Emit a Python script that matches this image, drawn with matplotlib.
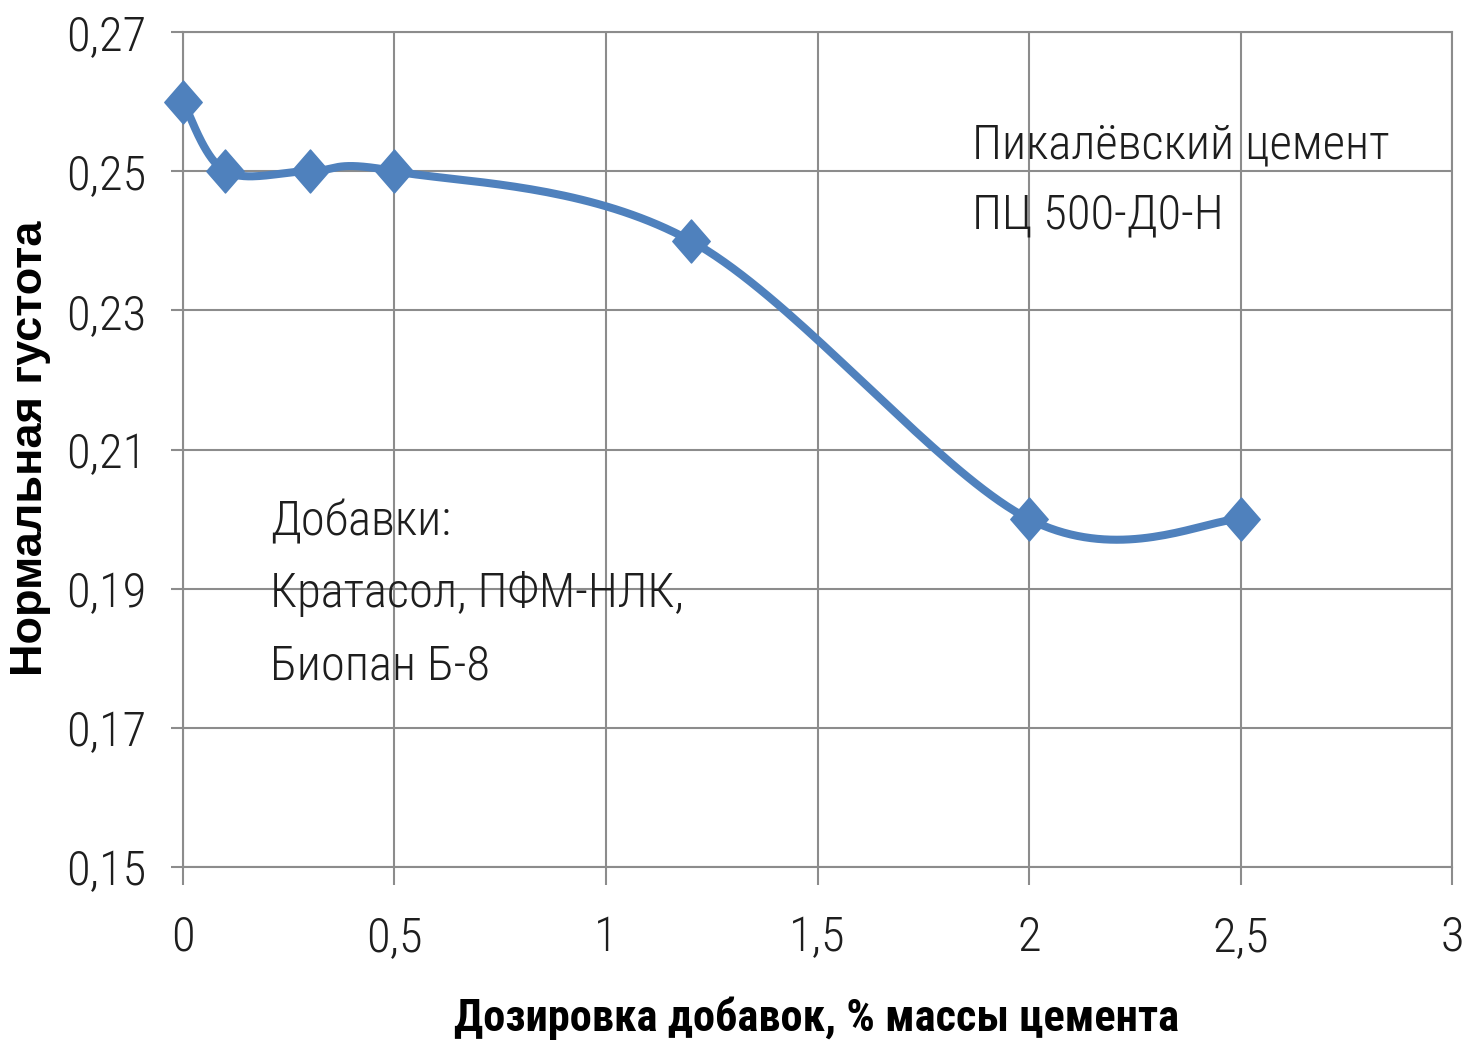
import matplotlib as mpl

mpl.use("Agg")

import matplotlib.pyplot as plt
import numpy as np
from matplotlib.path import Path
from matplotlib.ticker import FuncFormatter

# Dosage of additives, % of cement mass, and normal consistency
dosage = [0, 0.1, 0.3, 0.5, 1.2, 2.0, 2.5]
consistency = [0.26, 0.25, 0.25, 0.25, 0.24, 0.20, 0.20]

x_ticks = [0, 0.5, 1, 1.5, 2, 2.5, 3]
y_ticks = [0.15, 0.17, 0.19, 0.21, 0.23, 0.25, 0.27]

x_label = "Дозировка добавок, % массы цемента"
y_label = "Нормальная густота"
cement_note = ["Пикалёвский цемент", "ПЦ 500-Д0-Н"]
additive_note = ["Добавки:", "Кратасол, ПФМ-НЛК,", "Биопан Б-8"]

LINE_BLUE = "#4F81BD"
GRID_GREY = "#8C8C8C"
TEXT = "#1E1E1E"
NARROW = ["Roboto Condensed", "Liberation Sans Narrow", "Roboto", "DejaVu Sans"]


def smooth_path(xs, ys, steps=40):
    """Excel-style smoothed line: cubic Bezier segments, Catmull-Rom control points."""
    pts = np.column_stack([xs, ys]).astype(float)
    padded = np.vstack([pts[0], pts, pts[-1]])
    out = [pts[:1]]
    t = np.linspace(0, 1, steps)[1:, None]
    for i in range(len(pts) - 1):
        p0, p1 = padded[i + 1], padded[i + 2]
        c1 = p0 + (padded[i + 2] - padded[i]) / 6
        c2 = p1 - (padded[i + 3] - padded[i + 1]) / 6
        seg = (1 - t) ** 3 * p0 + 3 * (1 - t) ** 2 * t * c1 + 3 * (1 - t) * t**2 * c2 + t**3 * p1
        out.append(seg)
    curve = np.vstack(out)
    return curve[:, 0], curve[:, 1]


fig = plt.figure(figsize=(14.66, 10.43), dpi=100)
ax = fig.add_axes([0.1248, 0.1687, 0.8657, 0.8006])

sx, sy = smooth_path(dosage, consistency)
ax.plot(sx, sy, color=LINE_BLUE, lw=5.8, solid_capstyle="round", zorder=3, clip_on=False)

diamond = Path([(0, 1), (0.87, 0), (0, -1), (-0.87, 0), (0, 1)], closed=True)
ax.plot(dosage, consistency, ls="none", marker=diamond, ms=31, color=LINE_BLUE, zorder=4,
        clip_on=False)

ax.set_xlim(0, 3)
ax.set_ylim(0.15, 0.27)
ax.set_xticks(x_ticks)
ax.set_yticks(y_ticks)
ax.xaxis.set_major_formatter(FuncFormatter(lambda v, _: f"{v:g}".replace(".", ",")))
ax.yaxis.set_major_formatter(FuncFormatter(lambda v, _: f"{v:.2f}".replace(".", ",")))

ax.grid(True, color=GRID_GREY, lw=1.5)
ax.set_axisbelow(True)
for spine in ax.spines.values():
    spine.set_color(GRID_GREY)
    spine.set_linewidth(1.5)
ax.tick_params(axis="x", length=13, width=1.5, color=GRID_GREY, pad=21, labelsize=35)
ax.tick_params(axis="y", length=8.6, width=1.5, color=GRID_GREY, pad=18, labelsize=35)
for lab in ax.get_xticklabels() + ax.get_yticklabels():
    lab.set_family(NARROW)
    lab.set_fontweight("light")
    lab.set_color(TEXT)

fig.text(0.557, 0.024, x_label, ha="center", va="center", fontsize=32,
         fontweight="bold", family=NARROW)
fig.text(0.021, 0.57, y_label, ha="center", va="center", rotation=90, fontsize=32.5,
         fontweight="bold", family=["Liberation Sans", "DejaVu Sans"])

# one text per line so the spacing follows the reference
step = 0.01006
for i, line in enumerate(cement_note):
    ax.text(1.865, 0.2538 - i * step, line, ha="left", va="center", fontsize=35,
            fontweight="light", family=NARROW, color=TEXT)
for i, line in enumerate(additive_note):
    ax.text(0.206, 0.1996 - i * step * 1.03, line, ha="left", va="center", fontsize=35,
            fontweight="light", family=NARROW, color=TEXT)

fig.savefig("out.png", dpi=100, facecolor="white")
